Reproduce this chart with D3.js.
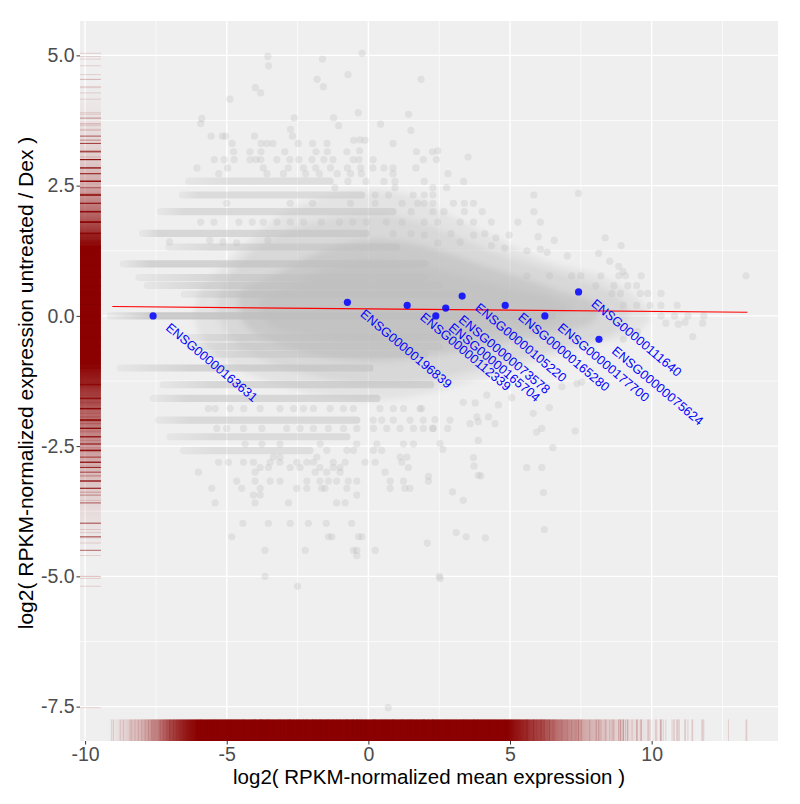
<!DOCTYPE html>
<html>
<head>
<meta charset="utf-8">
<script src="https://cdn.jsdelivr.net/npm/d3@7"></script>
<style>
  body { margin: 0; background: #fff; }
  text { font-family: "Liberation Sans", Arial, sans-serif; }
</style>
</head>
<body>
<svg id="viz" width="800" height="804"></svg>
<script>
// ---- data ----

// highlighted genes
var geneIds = ["ENSG00000163631", "ENSG00000196839", "ENSG00000112339", "ENSG00000165704", "ENSG00000073578",
               "ENSG00000105220", "ENSG00000165280", "ENSG00000177700", "ENSG00000111640", "ENSG00000075624"];
var geneX = [-7.60, -0.74, 1.37, 2.38, 2.73, 3.31, 4.83, 6.23, 7.42, 8.14];
var geneY = [0.00, 0.26, 0.20, 0.00, 0.15, 0.38, 0.20, 0.00, 0.46, -0.45];

// fitted line (ends)
var fitX = [-9.04, 13.38];
var fitY = [0.18, 0.07];

// horizontal bands of stacked low-count points
var stripeY =      [2.585, 2.32, 2.0, 1.585, 1.32, 1.0, 0.737, 0.585, 0.415, 0, -0.415, -0.585, -0.737, -1.0, -1.32, -1.585, -2.0, -2.32, -2.585];
var stripeFrom =   [-6.34, -6.56, -7.33, -7.97, -7.04, -8.65, -8.1, -7.8, -6.5, -9.1, -6.5, -6.3, -5.7, -8.76, -7.24, -7.59, -7.41, -7.0, -6.53];
var stripeDense =  [-5.0, -6.0, -6.5, -7.4, -5.5, -7.7, -6.0, -6.0, -4.4, -7.6, -4.5, -4.5, -4.5, -6.3, -5.5, -6.4, -6.3, -5.5, -5.5];
var stripeTo =     [-1.35, -0.24, 0.87, -0.08, 1.0, 2.0, 2.0, 2.5, 3.2, 6.5, 2.5, 2.5, 2.0, 0.06, 2.2, 0.3, -0.41, -0.76, -2.06];
var stripeWeight = [0.35, 0.4, 0.45, 0.5, 0.45, 0.6, 0.45, 0.5, 0.6, 0.75, 0.45, 0.45, 0.4, 0.55, 0.5, 0.5, 0.45, 0.4, 0.35];

// outlines of the overplotted cloud (outer to inner)
var cloudHalo = [[-5.94, 0.49], [-4.88, 1.07], [-3.82, 1.64], [-2.76, 2.03], [-1.35, 2.32], [0.06, 2.41], [1.47, 2.32],
  [2.53, 2.03], [3.59, 1.74], [5.00, 1.36], [6.41, 1.03], [7.83, 0.84], [8.88, 0.59], [9.59, 0.30], [9.94, -0.04],
  [9.24, -0.37], [7.83, -0.56], [6.06, -0.85], [4.30, -1.14], [2.53, -1.43], [1.12, -1.58], [-0.29, -1.62],
  [-1.71, -1.52], [-3.12, -1.33], [-4.53, -1.04], [-5.59, -0.66], [-6.12, -0.08]];
var cloudOuter = [[-5.2, 0.5], [-4.2, 1.2], [-3.0, 1.6], [-1.5, 1.85], [0.0, 1.95], [1.5, 1.85], [3.0, 1.55], [4.5, 1.2],
  [6.0, 0.95], [7.5, 0.7], [8.7, 0.4], [9.2, 0.05], [8.6, -0.35], [7.0, -0.6], [5.5, -0.8], [4.0, -1.0], [2.5, -1.2],
  [1.0, -1.3], [-0.5, -1.3], [-2.0, -1.15], [-3.5, -0.9], [-4.7, -0.5], [-5.3, 0.0]];
var cloudMid = [[-4.53, 0.45], [-3.47, 0.75], [-2.41, 1.05], [-1.35, 1.30], [0.06, 1.45], [1.47, 1.40], [2.53, 1.25],
  [3.59, 1.05], [4.65, 0.86], [5.71, 0.68], [6.77, 0.47], [7.83, 0.30], [8.18, 0.11], [7.83, -0.14], [6.77, -0.3],
  [5.35, -0.45], [3.94, -0.6], [2.53, -0.74], [1.12, -0.84], [-0.29, -0.86], [-1.71, -0.77], [-2.76, -0.62],
  [-3.65, -0.43], [-4.35, -0.18], [-4.53, 0.11]];
var cloudCore = [[-3.82, 0.30], [-2.76, 0.59], [-1.70, 0.88], [-0.65, 1.03], [0.77, 1.03], [2.18, 0.92], [3.59, 0.72],
  [5.00, 0.53], [6.41, 0.34], [7.12, 0.11], [6.59, -0.12], [5.00, -0.24], [3.24, -0.37], [1.82, -0.47], [0.41, -0.51],
  [-1.00, -0.47], [-2.41, -0.35], [-3.47, -0.18]];

// single points outside the cloud
var loosePts = [
  [-3.55,4.98],[-0.22,5.04],[-3.52,4.80],[-1.62,4.93],[-0.72,4.63],[-1.81,4.54],[-1.59,4.40],[1.86,4.54],[-3.99,4.38],
  [-3.80,4.28],[-4.89,4.16],[-0.36,3.90],[1.42,3.87],[-5.88,3.79],[-5.92,3.69],[-2.62,3.80],[-1.23,3.80],[0.43,3.68],
  [-1.05,3.65],[-2.75,3.58],[1.50,3.56],[-5.55,3.45],[-5.16,3.45],[-5.05,3.45],[-4.02,3.45],[-2.68,3.45],[-0.52,3.37],
  [-0.12,3.37],[-0.30,3.38],[-4.81,3.31],[-3.79,3.31],[-3.58,3.31],[-3.37,3.31],[-2.48,3.31],[-1.97,3.31],[-1.46,3.31],
  [0.87,3.31],[-4.76,3.15],[-4.18,3.15],[-3.79,3.15],[-2.95,3.15],[-1.85,3.15],[-1.45,3.15],[-0.76,3.15],[-0.31,3.17],
  [1.70,3.15],[2.26,3.15],[2.45,3.17],[3.52,3.05],[-5.44,3.0],[-5.09,3.0],[-4.74,3.0],[-4.18,3.0],[-3.97,3.0],[-3.80,3.0],
  [-3.23,3.0],[-2.77,3.0],[-2.45,3.0],[-1.99,3.0],[-1.57,3.0],[-1.25,3.0],[-0.54,3.0],[-0.33,3.0],[0.17,3.0],[1.94,3.0],
  [2.40,3.0],[-6.05,2.84],[-4.97,2.84],[-3.71,2.84],[-2.83,2.84],[-2.29,2.84],[-1.86,2.84],[-1.34,2.84],[-0.74,2.84],
  [-0.27,2.84],[0.16,2.84],[0.55,2.84],[0.87,2.84],[1.68,2.84],[-5.28,2.73],[-3.58,2.73],[-3.0,2.73],[-2.21,2.73],
  [-1.73,2.73],[-1.10,2.73],[-0.63,2.73],[-0.24,2.73],[0.87,2.73],[2.81,2.73],[-0.72,2.58],[-0.08,2.58],[0.55,2.58],
  [0.94,2.58],[1.97,2.58],[3.36,2.58],[-1.18,2.46],[0.94,2.46],[2.28,2.46],[2.76,2.46],[0.24,2.32],[0.71,2.32],[1.58,2.32],
  [1.97,2.32],[2.28,2.32],[5.84,2.32],[7.42,2.35],[-5.0,2.16],[-2.76,2.16],[-1.97,2.16],[-0.63,2.16],[0.24,2.16],[1.19,2.16],
  [1.74,2.16],[1.97,2.16],[2.28,2.16],[3.0,2.16],[3.39,2.16],[3.71,2.16],[1.51,2.0],[2.28,2.0],[2.67,2.0],[3.39,2.0],
  [4.02,2.0],[5.84,2.0],[-5.92,1.8],[-5.45,1.8],[-4.57,1.8],[-4.10,1.8],[-3.71,1.8],[-3.23,1.8],[-2.76,1.8],[-2.29,1.8],
  [-1.66,1.8],[-1.02,1.8],[-0.55,1.8],[-0.08,1.8],[0.63,1.8],[1.19,1.8],[1.97,1.8],[2.45,1.8],[3.24,1.8],[3.71,1.8],
  [4.34,1.8],[5.28,1.8],[6.07,1.8],[0.87,1.58],[1.51,1.58],[1.97,1.55],[2.92,1.58],[3.71,1.55],[4.11,1.58],[4.50,1.5],
  [4.97,1.55],[5.99,1.52],[6.56,1.45],[8.36,1.5],[8.92,1.35],[-7.02,1.42],[-5.60,1.45],[-5.13,1.42],[-4.65,1.4],
  [-3.55,1.45],[2.45,1.4],[3.24,1.42],[4.34,1.35],[4.81,1.3],[5.60,1.25],[6.07,1.28],[6.31,1.22],[7.02,1.15],[8.13,1.2],
  [8.52,1.05],[8.84,0.95],[8.99,0.85],[5.60,0.77],[6.39,0.77],[7.18,0.77],[7.50,0.77],[8.21,0.77],[8.84,0.77],[9.08,0.77],
  [9.63,0.77],[13.33,0.77],[8.03,0.58],[8.67,0.58],[9.16,0.58],[9.47,0.58],[8.6,0.43],[8.9,0.43],[9.6,0.43],[9.86,0.43],
  [10.33,0.43],[9.0,0.2],[9.47,0.2],[9.94,0.2],[10.33,0.2],[10.9,0.2],[10.33,0],[10.81,0],[11.28,0],[11.84,0],
  [10.5,-0.14],[11.8,-0.14],[10.94,-0.16],[11.18,-0.12],[11.45,-0.4],[9.5,-0.3],[9.0,-0.45],
  [-5.65,-1.78],[-5.41,-1.78],[-4.88,-1.78],[-4.40,-1.78],[-3.82,-1.78],[-3.12,-1.78],[-2.64,-1.78],[-2.29,-1.78],
  [-1.94,-1.78],[-1.35,-1.78],[-0.88,-1.78],[-0.53,-1.78],[0.41,-1.78],[0.88,-1.78],[1.24,-1.78],[1.82,-1.78],
  [0.17,-2],[0.47,-2],[0.88,-2],[1.47,-2],[1.94,-2],[-5.35,-2.16],[-5.0,-2.16],[-4.41,-2.16],[-3.76,-2.16],[-2.88,-2.16],
  [-2.41,-2.16],[-1.94,-2.16],[-1.41,-2.16],[-0.88,-2.16],[-0.41,-2.16],[0.18,-2.16],[0.65,-2.16],[1.12,-2.16],[1.59,-2.16],
  [2.29,-2.16],[-4.35,-2.46],[-3.76,-2.46],[-3.12,-2.46],[-1.70,-2.46],[-0.41,-2.46],[0.30,-2.46],[1.24,-2.46],[1.59,-2.46],
  [-1.47,-2.58],[-0.76,-2.58],[-0.53,-2.58],[0.18,-2.58],[0.47,-2.58],[-3.35,-2.71],[-3.12,-2.71],[-1.82,-2.71],[1.12,-2.71],
  [1.36,-2.71],[-5.29,-2.81],[-4.94,-2.81],[-4.41,-2.81],[-4.06,-2.81],[-3.47,-2.81],[-3.12,-2.81],[-2.53,-2.81],
  [-2.17,-2.81],[-1.94,-2.81],[-1.24,-2.81],[-0.82,-2.81],[-0.12,-2.81],[0.24,-2.81],[1.18,-2.81],[-3.82,-2.91],
  [-3.53,-2.91],[-2.76,-2.91],[-2.41,-2.91],[-1.71,-2.91],[-1.24,-2.91],[-1.0,-2.91],[1.41,-2.91],[-6.0,-3.0],[-4.0,-3.0],
  [-1.88,-3.0],[-1.47,-3.0],[-1.0,-3.0],[0.59,-3.0],[-4.65,-3.17],[-4.0,-3.17],[-3.47,-3.17],[-3.12,-3.17],[-2.17,-3.17],
  [-1.71,-3.17],[-1.41,-3.17],[-1.12,-3.17],[-0.71,-3.17],[-0.41,-3.17],[0.77,-3.17],[1.24,-3.17],[2.12,-3.17],
  [-5.53,-3.31],[-4.47,-3.31],[-3.82,-3.31],[-2.53,-3.31],[-2.17,-3.31],[-1.65,-3.31],[-1.53,-3.31],[-0.76,-3.31],
  [0.77,-3.31],[1.29,-3.31],[1.47,-3.31],[-4.06,-3.44],[-3.82,-3.44],[-0.41,-3.44],[-5.41,-3.59],[-4.0,-3.59],[-2.82,-3.59],
  [-1.12,-3.59],[-0.82,-3.59],[-4.43,-3.98],[-3.53,-3.98],[-2.76,-3.98],[-2.12,-3.98],[-1.49,-3.98],[-0.59,-3.98],
  [-4.82,-4.24],[-1.41,-4.24],[-1.29,-4.24],[-0.35,-4.24],[-0.23,-4.24],[-3.65,-4.5],[-2.23,-4.5],[-0.53,-4.5],
  [-0.41,-4.5],[0.24,-4.5],[-0.41,-4.6],[-3.65,-5.0],[2.51,-5.0],[-2.5,-5.19],[0.70,-7.52],
  [1.88,-1.78],[2.35,-1.99],[2.88,-2.0],[1.94,-2.16],[2.27,-2.16],[2.80,-2.16],[3.35,-1.66],[3.77,-1.67],[4.18,-1.52],
  [4.59,-1.71],[5.06,-1.57],[3.59,-2.07],[3.83,-1.94],[3.88,-2.03],[4.24,-1.94],[4.47,-2.07],[5.82,-1.87],[6.12,-2.16],
  [5.94,-2.23],[6.39,-1.76],[7.3,-2.21],[6.51,-2.53],[2.53,-2.45],[2.63,-2.56],[3.88,-2.39],[3.71,-2.72],[3.73,-2.88],
  [3.88,-3.06],[3.97,-3.07],[2.12,-3.08],[5.59,-2.91],[6.12,-2.91],[6.18,-3.39],[2.97,-3.38],[3.35,-3.54],[3.10,-4.16],
  [3.45,-4.24],[4.13,-4.26],[2.08,-4.36],[6.21,-4.10],[2.53,-5.04],[7.36,-1.3],[7.53,-1.27],[6.83,-1.36]
];

// rug ticks seen at the thin ends of the rugs
var rugXExtra = [-9.06, -9.0, -8.76, -8.65, -8.41, -8.35, -8.24, -8.12, -8.0, -7.88, -7.76, -7.65, -7.53, -7.35, -7.24,
  -7.12, -7.0, -6.88, -6.76, -6.65, -6.53, 7.81, 8.06, 8.39, 8.64, 8.89, 9.15, 9.31, 9.64, 9.89, 10.14, 10.18, 10.3,
  10.41, 10.72, 10.77, 10.89, 10.98, 11.18, 11.42, 11.77, 12.71, 13.36];
// rug density where the ticks merge
var rugXStops = [-9.2, -8.6, -8.0, -7.5, -7.0, -6.4, -6.0, 4.9, 5.5, 6.2, 7.0, 7.6, 8.5, 9.5, 10.5];
var rugXAlpha = [0, 0.12, 0.25, 0.45, 0.7, 0.92, 1, 1, 0.85, 0.65, 0.45, 0.3, 0.15, 0.07, 0];
var rugYStops = [-4.6, -3.6, -3.0, -2.4, -1.8, -1.3, -0.9, 1.3, 1.6, 2.0, 2.5, 3.0, 3.6, 4.5];
var rugYAlpha = [0, 0.1, 0.22, 0.4, 0.6, 0.85, 1, 1, 0.8, 0.55, 0.3, 0.15, 0.07, 0];

var xTicks = [-10, -5, 0, 5, 10];
var xMinor = [-7.5, -2.5, 2.5, 7.5, 12.5];
var yTicks = [-7.5, -5, -2.5, 0, 2.5, 5];
var yMinor = [-6.25, -3.75, -1.25, 1.25, 3.75];

// ---- layout ----
var panel = { left: 80, right: 778, top: 21, bottom: 741 };
var x = d3.scaleLinear().domain([-10.18, 14.46]).range([panel.left, panel.right]);
var y = d3.scaleLinear().domain([-8.16, 5.66]).range([panel.bottom, panel.top]);
var grey = "#bebebe", darkred = "#8b0000";

var svg = d3.select("#viz");
var defs = svg.append("defs");
defs.append("clipPath").attr("id", "clip").append("rect")
    .attr("x", panel.left).attr("y", panel.top)
    .attr("width", panel.right - panel.left).attr("height", panel.bottom - panel.top);
defs.append("filter").attr("id", "soft").attr("x", "-20%").attr("y", "-20%").attr("width", "140%").attr("height", "140%")
    .append("feGaussianBlur").attr("stdDeviation", 3);

svg.append("rect").attr("x", panel.left).attr("y", panel.top)
    .attr("width", panel.right - panel.left).attr("height", panel.bottom - panel.top)
    .attr("fill", "#efefef");

// grid
var grid = svg.append("g");
grid.selectAll(".xm").data(xMinor).enter().append("line")
    .attr("x1", function (d) { return x(d); }).attr("x2", function (d) { return x(d); })
    .attr("y1", panel.top).attr("y2", panel.bottom).attr("stroke", "#fff").attr("stroke-width", 0.7);
grid.selectAll(".ym").data(yMinor).enter().append("line")
    .attr("y1", function (d) { return y(d); }).attr("y2", function (d) { return y(d); })
    .attr("x1", panel.left).attr("x2", panel.right).attr("stroke", "#fff").attr("stroke-width", 0.7);
grid.selectAll(".xM").data(xTicks).enter().append("line")
    .attr("x1", function (d) { return x(d); }).attr("x2", function (d) { return x(d); })
    .attr("y1", panel.top).attr("y2", panel.bottom).attr("stroke", "#fff").attr("stroke-width", 1.4);
grid.selectAll(".yM").data(yTicks).enter().append("line")
    .attr("y1", function (d) { return y(d); }).attr("y2", function (d) { return y(d); })
    .attr("x1", panel.left).attr("x2", panel.right).attr("stroke", "#fff").attr("stroke-width", 1.4);

var plot = svg.append("g").attr("clip-path", "url(#clip)");

// overplotted cloud
var cloudLine = d3.line().x(function (d) { return x(d[0]); }).y(function (d) { return y(d[1]); })
    .curve(d3.curveCatmullRomClosed.alpha(0.5));
var cloud = plot.append("g").attr("filter", "url(#soft)");
[[cloudHalo, 0.25], [cloudOuter, 0.3], [cloudMid, 0.6], [cloudCore, 0.6]].forEach(function (c) {
    cloud.append("path").attr("d", cloudLine(c[0])).attr("fill", grey).attr("fill-opacity", c[1]);
});

// stripes
stripeY.forEach(function (v, i) {
    var gid = "stripe" + i;
    var x0 = x(stripeFrom[i]), x1 = x(stripeTo[i]);
    var grad = defs.append("linearGradient").attr("id", gid).attr("gradientUnits", "userSpaceOnUse")
        .attr("x1", x0).attr("x2", x1).attr("y1", 0).attr("y2", 0);
    var dOff = (x(stripeDense[i]) - x0) / (x1 - x0);
    grad.append("stop").attr("offset", 0).attr("stop-color", grey).attr("stop-opacity", 0.2);
    grad.append("stop").attr("offset", dOff).attr("stop-color", grey).attr("stop-opacity", stripeWeight[i]);
    grad.append("stop").attr("offset", 1).attr("stop-color", grey).attr("stop-opacity", stripeWeight[i]);
    plot.append("rect").attr("x", x0 - 3.6).attr("width", x1 - x0 + 7.2)
        .attr("y", y(v) - 3.6).attr("height", 7.2).attr("rx", 3.6)
        .attr("fill", "url(#" + gid + ")");
});

// loose points
plot.append("g").selectAll("circle").data(loosePts).enter().append("circle")
    .attr("cx", function (d) { return x(d[0]); }).attr("cy", function (d) { return y(d[1]); })
    .attr("r", 3.6).attr("fill", grey).attr("fill-opacity", 0.3);

// rugs
function gradientBand(id, stops, alphas, horizontal) {
    var lg = defs.append("linearGradient").attr("id", id).attr("gradientUnits", "userSpaceOnUse");
    var s = horizontal ? x : y;
    if (horizontal) lg.attr("x1", s(stops[0])).attr("x2", s(stops[stops.length - 1])).attr("y1", 0).attr("y2", 0);
    else lg.attr("y1", s(stops[0])).attr("y2", s(stops[stops.length - 1])).attr("x1", 0).attr("x2", 0);
    var span = s(stops[stops.length - 1]) - s(stops[0]);
    stops.forEach(function (v, i) {
        lg.append("stop").attr("offset", (s(v) - s(stops[0])) / span)
            .attr("stop-color", darkred).attr("stop-opacity", alphas[i]);
    });
}
var rugLen = 0.03;
var rugH = (panel.bottom - panel.top) * rugLen, rugW = (panel.right - panel.left) * rugLen;
gradientBand("rugx", rugXStops, rugXAlpha, true);
gradientBand("rugy", rugYStops, rugYAlpha, false);
plot.append("rect").attr("x", x(rugXStops[0])).attr("width", x(rugXStops[rugXStops.length - 1]) - x(rugXStops[0]))
    .attr("y", panel.bottom - rugH).attr("height", rugH).attr("fill", "url(#rugx)");
plot.append("rect").attr("y", y(rugYStops[rugYStops.length - 1])).attr("height", y(rugYStops[0]) - y(rugYStops[rugYStops.length - 1]))
    .attr("x", panel.left).attr("width", rugW).attr("fill", "url(#rugy)");

var rugXs = loosePts.map(function (d) { return d[0]; }).concat(rugXExtra, geneX);
var rugYs = loosePts.map(function (d) { return d[1]; }).concat(geneY);
plot.append("g").selectAll("line").data(rugXs).enter().append("line")
    .attr("x1", function (d) { return x(d); }).attr("x2", function (d) { return x(d); })
    .attr("y1", panel.bottom - rugH).attr("y2", panel.bottom)
    .attr("stroke", darkred).attr("stroke-opacity", 0.14).attr("stroke-width", 1);
plot.append("g").selectAll("line").data(rugYs).enter().append("line")
    .attr("y1", function (d) { return y(d); }).attr("y2", function (d) { return y(d); })
    .attr("x1", panel.left).attr("x2", panel.left + rugW)
    .attr("stroke", darkred).attr("stroke-opacity", 0.14).attr("stroke-width", 1);
plot.append("g").selectAll("line").data(stripeY).enter().append("line")
    .attr("y1", function (d) { return y(d); }).attr("y2", function (d) { return y(d); })
    .attr("x1", panel.left).attr("x2", panel.left + rugW)
    .attr("stroke", darkred).attr("stroke-opacity", 0.8).attr("stroke-width", 1.5);

// fitted line
plot.append("path").datum(d3.zip(fitX, fitY))
    .attr("d", d3.line().x(function (d) { return x(d[0]); }).y(function (d) { return y(d[1]); }))
    .attr("fill", "none").attr("stroke", "red").attr("stroke-width", 1.2);

// highlighted genes
var genes = d3.range(geneIds.length).map(function (i) { return { id: geneIds[i], x: geneX[i], y: geneY[i] }; });
plot.append("g").selectAll("circle").data(genes).enter().append("circle")
    .attr("cx", function (d) { return x(d.x); }).attr("cy", function (d) { return y(d.y); })
    .attr("r", 3.6).attr("fill", "blue").attr("fill-opacity", 0.85);
svg.append("g").selectAll("text").data(genes).enter().append("text")
    .attr("transform", function (d) { return "translate(" + (x(d.x) + 12) + "," + (y(d.y) + 13) + ") rotate(40)"; })
    .attr("font-size", 12.8).attr("fill", "blue").text(function (d) { return d.id; });

// axes (ascii hyphen for negatives, as in the reference)
function hy(f) { return function (d) { return f(d).replace("\u2212", "-"); }; }
var xAxis = svg.append("g").attr("transform", "translate(0," + panel.bottom + ")")
    .call(d3.axisBottom(x).tickValues(xTicks).tickSize(3.5).tickPadding(3).tickFormat(hy(d3.format("d"))));
var yAxis = svg.append("g").attr("transform", "translate(" + panel.left + ",0)")
    .call(d3.axisLeft(y).tickValues(yTicks).tickSize(3.5).tickPadding(2).tickFormat(hy(d3.format(".1f"))));
[xAxis, yAxis].forEach(function (a) {
    a.select(".domain").remove();
    a.selectAll(".tick line").attr("stroke", "#333").attr("stroke-width", 1);
    a.selectAll(".tick text").attr("fill", "#4d4d4d").attr("font-size", 19.5)
        .attr("font-family", "'Liberation Sans', Arial, sans-serif");
});

svg.append("text").attr("x", (panel.left + panel.right) / 2).attr("y", 784)
    .attr("text-anchor", "middle").attr("font-size", 20.5).attr("fill", "#000")
    .text("log2( RPKM-normalized mean expression )");
svg.append("text").attr("transform", "translate(33," + ((panel.top + panel.bottom) / 2 + 2) + ") rotate(-90)")
    .attr("text-anchor", "middle").attr("font-size", 21).attr("fill", "#000")
    .text("log2( RPKM-normalized expression untreated / Dex )");
</script>
</body>
</html>
